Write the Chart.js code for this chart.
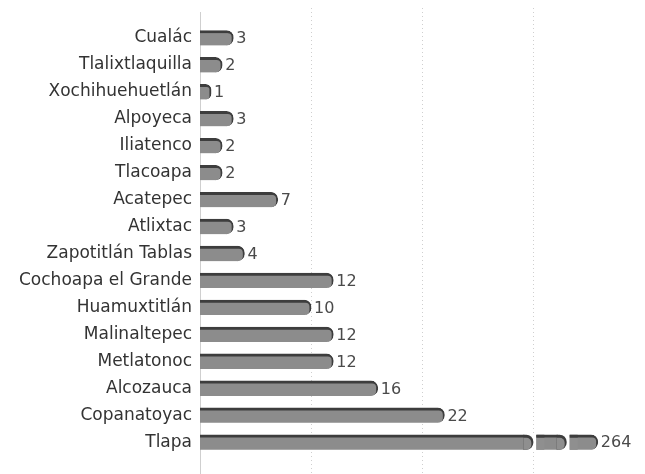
<!DOCTYPE html>
<html>
<head>
<meta charset="utf-8">
<script src="https://cdn.jsdelivr.net/npm/chart.js@4.4.1/dist/chart.umd.min.js"></script>
<style>
  html, body { margin: 0; padding: 0; background: #fff; }
  #wrap { width: 645px; height: 474px; position: relative; }
</style>
</head>
<body>
<div id="wrap"><canvas id="chart"></canvas></div>
<script>
const municipios = [
  'Cualác', 'Tlalixtlaquilla', 'Xochihuehuetlán', 'Alpoyeca', 'Iliatenco',
  'Tlacoapa', 'Acatepec', 'Atlixtac', 'Zapotitlán Tablas', 'Cochoapa el Grande',
  'Huamuxtitlán', 'Malinaltepec', 'Metlatonoc', 'Alcozauca', 'Copanatoyac', 'Tlapa'
];
const casos = [3, 2, 1, 3, 2, 2, 7, 3, 4, 12, 10, 12, 12, 16, 22, 264];
const xTicks = [0, 10, 20, 30];

const FONT = 'DejaVu Sans';

// linear axis that squeezes everything past the break point
class BrokenScale extends Chart.LinearScale {
  toDisplay(v) {
    const b = this.options.breakAt;
    return v <= b ? v : b + (v - b) * this.options.squeeze;
  }
  getPixelForValue(v) {
    return super.getPixelForValue(this.toDisplay(v));
  }
}
BrokenScale.id = 'broken';
BrokenScale.defaults = Chart.LinearScale.defaults;
Chart.register(BrokenScale);

// axis line + dotted grid, longer than the plot area
const gridLines = {
  id: 'gridLines',
  beforeDatasetsDraw(chart) {
    const { ctx, scales: { x } } = chart;
    ctx.save();
    ctx.strokeStyle = '#cfcfcf';
    ctx.lineWidth = 1;
    x.ticks.forEach(t => {
      const px = Math.round(x.getPixelForValue(t.value)) + 0.5;
      ctx.setLineDash(t.value === 0 ? [] : [1, 3]);
      ctx.beginPath();
      ctx.moveTo(px, t.value === 0 ? 12 : 8);
      ctx.lineTo(px, 474);
      ctx.stroke();
    });
    ctx.restore();
  }
};

// gaps in the Tlapa bar where the axis is cut
const barBreaks = {
  id: 'barBreaks',
  afterDatasetsDraw(chart, args, opts) {
    const { ctx, scales: { x } } = chart;
    const meta = chart.getDatasetMeta(0);
    ctx.save();
    meta.data.forEach((bar, i) => {
      if (casos[i] <= x.options.breakAt) return;
      const top = bar.y - bar.height / 2;
      const h = bar.height;
      opts.at.forEach(d => {
        const xb = x.getPixelForDecimal((d - x.min) / (x.max - x.min));
        ctx.fillStyle = '#fff';
        ctx.fillRect(xb - 9, top - 1, 12, h + 2);
        ctx.fillStyle = '#3d3d3d';
        ctx.beginPath();
        ctx.roundRect(xb - 10, top, 10, h, [0, 7, 7, 0]);
        ctx.fill();
        ctx.fillStyle = '#8f8f8f';
        ctx.beginPath();
        ctx.roundRect(xb - 10, top + 3, 8, h - 3, [0, 5, 5, 0]);
        ctx.fill();
        ctx.fillStyle = '#3d3d3d';
        ctx.fillRect(xb + 3, top, 8, 3);
        ctx.fillStyle = '#8f8f8f';
        ctx.fillRect(xb + 3, top + 3, 8, h - 3);
      });
    });
    ctx.restore();
  }
};

// numbers at the end of each bar
const valueLabels = {
  id: 'valueLabels',
  afterDatasetsDraw(chart) {
    const { ctx } = chart;
    const meta = chart.getDatasetMeta(0);
    ctx.save();
    ctx.font = '16px "' + FONT + '"';
    ctx.fillStyle = '#4a4a4a';
    ctx.textBaseline = 'middle';
    ctx.textAlign = 'left';
    meta.data.forEach((bar, i) => {
      ctx.fillText(String(casos[i]), bar.x + 3, bar.y + 1);
    });
    ctx.restore();
  }
};

new Chart(document.getElementById('chart'), {
  type: 'bar',
  data: {
    labels: municipios,
    datasets: [{
      data: casos,
      backgroundColor: '#8c8c8c',
      borderColor: '#3d3d3d',
      borderWidth: { top: 3, right: 2, bottom: 0, left: 0 },
      borderRadius: { topLeft: 0, bottomLeft: 0, topRight: 7, bottomRight: 7 },
      borderSkipped: false,
      barThickness: 15
    }]
  },
  options: {
    indexAxis: 'y',
    responsive: true,
    maintainAspectRatio: false,
    animation: false,
    layout: { padding: { top: 24.5, bottom: 16.5, left: 0, right: 45 } },
    plugins: {
      legend: { display: false },
      tooltip: { enabled: false },
      barBreaks: { at: [30, 33] }
    },
    scales: {
      x: {
        type: 'broken',
        breakAt: 30,
        squeeze: 5.8 / 234,
        min: 0,
        max: 36,
        afterBuildTicks(s) { s.ticks = xTicks.map(v => ({ value: v })); },
        afterFit(s) { s.height = 0; },
        ticks: { display: false },
        grid: { display: false },
        border: { display: false }
      },
      y: {
        afterFit(s) { s.width = 200; },
        ticks: {
          color: '#333',
          padding: 8,
          font: { family: FONT, size: 17 }
        },
        grid: { display: false, drawTicks: false, tickLength: 0 },
        border: { display: false }
      }
    }
  },
  plugins: [gridLines, barBreaks, valueLabels]
});
</script>
</body>
</html>
